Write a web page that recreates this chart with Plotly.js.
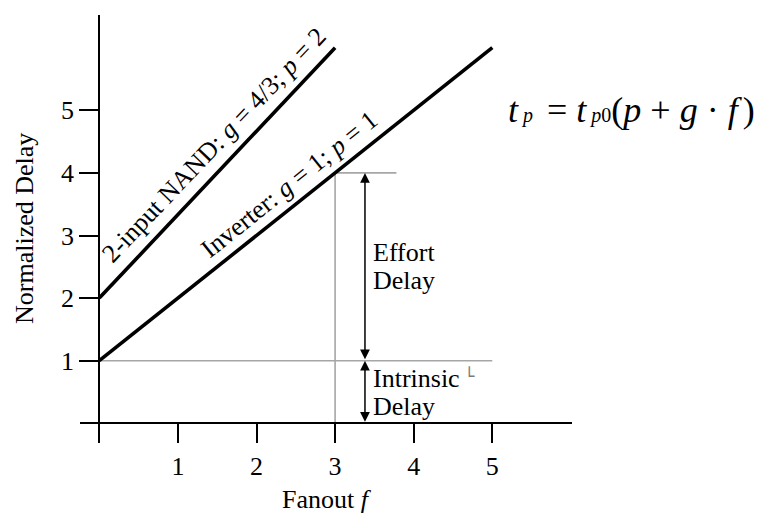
<!DOCTYPE html>
<html>
<head>
<meta charset="utf-8">
<script src="https://cdn.plot.ly/plotly-3.0.1.min.js"></script>
<style>
  html, body { margin: 0; padding: 0; background: #fff; }
  #chart { width: 767px; height: 516px; }
</style>
</head>
<body>
<div id="chart"></div>
<script>
// Gate delay model: d = p + g * f
var nandFanout = [0, 3];
var nandDelay = [2, 6];
var invFanout = [0, 5];
var invDelay = [1, 6];

// Guide lines for the inverter at fanout 3
var intrinsicX = [0, 5];
var intrinsicY = [1, 1];
var effortTopX = [3, 3.78];
var effortTopY = [4, 4];
var fanoutMarkX = [3, 3];
var fanoutMarkY = [0, 4];

// Dimension arrows (fanout position, from, to)
var arrowX = 3.38;
var effortArrow = [4, 1];
var intrinsicArrow = [1, 0];

var xTickVals = [0, 1, 2, 3, 4, 5];
var xTickText = ['', '1', '2', '3', '4', '5'];
var yTickVals = [1, 2, 3, 4, 5];
var yTickText = ['1', '2', '3', '4', '5'];

var SERIF = 'Liberation Serif, Times New Roman, serif';
var GUIDE = '#a6a6a6';

var traces = [
  { x: intrinsicX, y: intrinsicY, mode: 'lines', line: { color: GUIDE, width: 1.6 }, hoverinfo: 'skip' },
  { x: effortTopX, y: effortTopY, mode: 'lines', line: { color: GUIDE, width: 1.6 }, hoverinfo: 'skip' },
  { x: fanoutMarkX, y: fanoutMarkY, mode: 'lines', line: { color: GUIDE, width: 1.6 }, hoverinfo: 'skip' },
  { x: nandFanout, y: nandDelay, mode: 'lines', line: { color: '#000', width: 3.6 }, hoverinfo: 'skip' },
  { x: invFanout, y: invDelay, mode: 'lines', line: { color: '#000', width: 3.6 }, hoverinfo: 'skip' }
];

function txt(text, x, y, opts) {
  var a = {
    text: text, x: x, y: y, xref: 'x', yref: 'y',
    showarrow: false, xanchor: 'center', yanchor: 'middle',
    font: { family: SERIF, size: 26, color: '#000' }
  };
  for (var k in opts) a[k] = opts[k];
  return a;
}

// small-size run used for the subscripts of the delay equation
function small(s) { return '<span style="font-size:20px">' + s + '</span>'; }

var formula =
  '<i>t</i>' + small('&nbsp;<i>p</i>&nbsp;') + '&nbsp;=&nbsp;<i>t</i>' + small('&nbsp;<i>p</i>0') +
  '(<i>p</i> + <i>g</i> \u00b7 <i>f</i>' + small('&nbsp;') + ')';

var annotations = [
  txt('2-input NAND: <i>g</i> = 4/3; <i>p</i> = 2', 1.465, 4.45, { textangle: -46.5 }),
  txt('Inverter: <i>g</i> = 1; <i>p</i> = 1', 2.415, 3.81, { textangle: -38.7 }),
  txt('Effort', 3.46, 2.73, { xanchor: 'left' }),
  txt('Delay', 3.46, 2.28, { xanchor: 'left' }),
  txt('Intrinsic', 3.46, 0.723, { xanchor: 'left' }),
  txt('Delay', 3.46, 0.276, { xanchor: 'left' }),
  txt('\u2514', 4.705, 0.76, { font: { family: 'DejaVu Sans', size: 17, color: '#7a7a7a' } }),
  {
    x: arrowX, y: effortArrow[0], ax: arrowX, ay: effortArrow[1],
    xref: 'x', yref: 'y', axref: 'x', ayref: 'y', text: '',
    showarrow: true, arrowside: 'end+start', arrowhead: 2, arrowsize: 1.3,
    arrowwidth: 1.5, arrowcolor: '#000'
  },
  {
    x: arrowX, y: intrinsicArrow[0], ax: arrowX, ay: intrinsicArrow[1],
    xref: 'x', yref: 'y', axref: 'x', ayref: 'y', text: '',
    showarrow: true, arrowside: 'end+start', arrowhead: 2, arrowsize: 1.3,
    arrowwidth: 1.5, arrowcolor: '#000'
  },
  {
    text: formula,
    xref: 'paper', yref: 'paper', x: (506 - 80) / 492, y: (442 - 110) / 427,
    xanchor: 'left', yanchor: 'middle', showarrow: false,
    font: { family: SERIF, size: 36, color: '#000' }
  },
  {
    text: 'Normalized Delay', xref: 'paper', yref: 'paper',
    x: (24 - 80) / 492, y: (442 - 229) / 427, xanchor: 'center', yanchor: 'middle',
    textangle: -90, showarrow: false,
    font: { family: SERIF, size: 26, color: '#000' }
  },
  {
    text: 'Fanout <i>f</i>', xref: 'paper', yref: 'paper',
    x: (327 - 80) / 492, y: (442 - 500) / 427, xanchor: 'center', yanchor: 'middle',
    showarrow: false,
    font: { family: SERIF, size: 26, color: '#000' }
  }
];

var layout = {
  width: 767, height: 516,
  margin: { l: 80, r: 195, t: 15, b: 74, pad: 0 },
  paper_bgcolor: '#fff', plot_bgcolor: '#fff',
  showlegend: false,
  xaxis: {
    range: [-19.3 / 78.6, 472.7 / 78.6],
    anchor: 'free', position: 18.7 / 427,
    showline: true, linecolor: '#000', linewidth: 2,
    showgrid: false, zeroline: false,
    ticks: 'outside', ticklen: 19, tickwidth: 2, tickcolor: '#000',
    tickmode: 'array', tickvals: xTickVals, ticktext: xTickText,
    tickfont: { family: SERIF, size: 26, color: '#000' },
    fixedrange: true
  },
  yaxis: {
    range: [-18.7 / 62.6, 408.3 / 62.6],
    anchor: 'free', position: 19.3 / 492,
    showline: true, linecolor: '#000', linewidth: 2,
    showgrid: false, zeroline: false,
    ticks: 'outside', ticklen: 19, tickwidth: 2, tickcolor: '#000',
    tickmode: 'array', tickvals: yTickVals, ticktext: yTickText,
    tickfont: { family: SERIF, size: 26, color: '#000' },
    fixedrange: true
  },
  annotations: annotations
};

Plotly.newPlot('chart', traces, layout, { displayModeBar: false, staticPlot: true });
</script>
</body>
</html>
